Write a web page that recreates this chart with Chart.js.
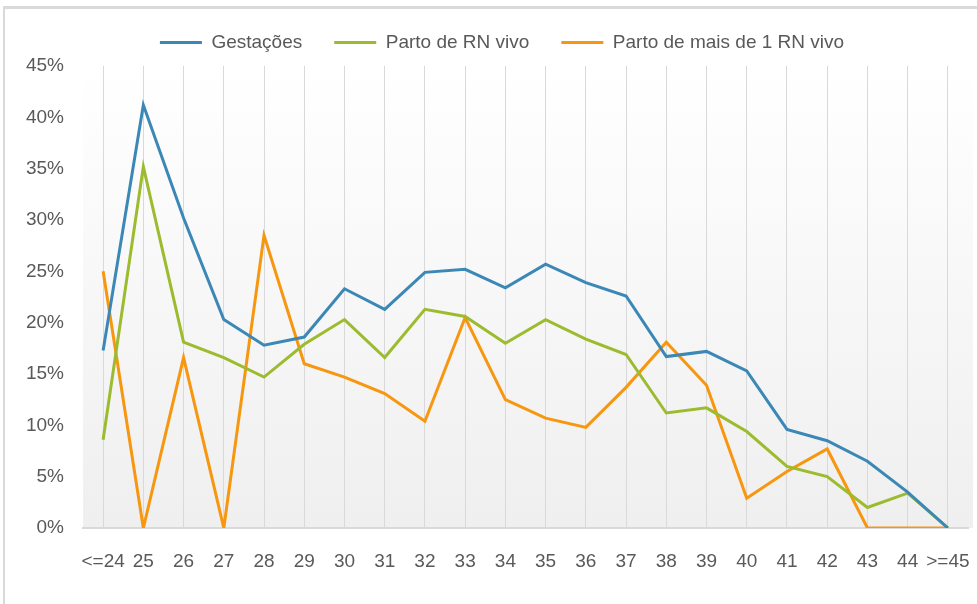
<!DOCTYPE html>
<html>
<head>
<meta charset="utf-8">
<script src="https://cdn.jsdelivr.net/npm/chart.js"></script>
<style>
  html, body { margin: 0; padding: 0; background: #fff; }
  #wrap { position: relative; width: 977px; height: 604px; overflow: hidden; }
  #frame { position: absolute; left: 3px; top: 6px; width: 990px; height: 620px;
           border-top: 3px solid #d9d9d9; border-left: 2px solid #d9d9d9; pointer-events: none; }
  canvas { position: absolute; left: 0; top: 0; }
</style>
</head>
<body>
<div id="wrap">
  <canvas id="chart" width="977" height="604"></canvas>
  <div id="frame"></div>
</div>
<script>
// categorias (idade)
const idades = ['<=24','25','26','27','28','29','30','31','32','33','34','35','36','37','38','39','40','41','42','43','44','>=45'];

// séries (%)
const gestacoes   = [17.3, 41.2, 30.2, 20.3, 17.8, 18.6, 23.3, 21.3, 24.9, 25.2, 23.4, 25.7, 23.9, 22.6, 16.7, 17.2, 15.3, 9.6, 8.5, 6.5, 3.5, 0];
const partoVivo   = [8.6, 35.2, 18.1, 16.6, 14.7, 17.9, 20.3, 16.6, 21.3, 20.6, 18.0, 20.3, 18.4, 16.9, 11.2, 11.7, 9.4, 6.0, 5.0, 2.0, 3.4, 0];
const partoMais1  = [25.0, 0, 16.6, 0, 28.5, 16.0, 14.7, 13.1, 10.4, 20.5, 12.5, 10.7, 9.8, 13.7, 18.1, 13.9, 2.9, 5.5, 7.7, 0, 0, 0];

const FONT = "'Liberation Sans', Arial, sans-serif";
const TXT = '#595959';
const FS = 19;

const bgPlugin = {
  id: 'plotBg',
  beforeDraw(chart) {
    const {ctx, chartArea: a} = chart;
    const g = ctx.createLinearGradient(0, a.top, 0, a.bottom);
    g.addColorStop(0, '#ffffff');
    g.addColorStop(1, '#efefef');
    ctx.save();
    ctx.fillStyle = g;
    ctx.fillRect(a.left, a.top, a.right - a.left + 5, a.bottom - a.top);
    ctx.restore();
  }
};

// legenda um pouco mais alta e deslocada para a direita
const legendFit = {
  id: 'legendFit',
  beforeInit(chart) {
    const fit = chart.legend.fit;
    chart.legend.fit = function() {
      fit.bind(chart.legend)();
      this.height = 65;
    };
  },
  afterLayout(chart) {
    chart.legend.left += 18;
    chart.legend.right += 18;
  }
};

function ds(label, data, color) {
  return { label, data, borderColor: color, backgroundColor: color,
           borderWidth: 3, pointRadius: 0, tension: 0, fill: false };
}

new Chart(document.getElementById('chart'), {
  type: 'line',
  data: {
    labels: idades,
    datasets: [
      ds('Gestações', gestacoes, '#3b88b7'),
      ds('Parto de RN vivo', partoVivo, '#9cbb2e'),
      ds('Parto de mais de 1 RN vivo', partoMais1, '#f7960f')
    ]
  },
  options: {
    responsive: false,
    animation: false,
    layout: { padding: { top: 1, right: 9, bottom: 0, left: 0 } },
    plugins: {
      tooltip: { enabled: false },
      legend: {
        position: 'top',
        labels: {
          color: TXT,
          font: { family: FONT, size: FS },
          boxWidth: 42,
          boxHeight: 3,
          padding: 32,
          generateLabels(chart) {
            return chart.data.datasets.map((d, i) => ({
              text: d.label, fillStyle: d.borderColor, strokeStyle: d.borderColor,
              lineWidth: 0, hidden: false, datasetIndex: i, fontColor: TXT
            }));
          }
        }
      }
    },
    scales: {
      x: {
        offset: true,
        grid: { display: true, offset: false, color: '#d9d9d9', lineWidth: 1, drawTicks: false },
        border: { display: true, color: '#d9d9d9', width: 2 },
        ticks: { color: TXT, font: { family: FONT, size: FS }, padding: 22, maxRotation: 0, autoSkip: false },
        afterFit(scale) { scale.height = 76; scale.paddingRight = 0; scale.paddingLeft = 0; }
      },
      y: {
        min: 0, max: 45,
        grid: { display: false, drawTicks: false },
        border: { display: false },
        ticks: { stepSize: 5, color: TXT, font: { family: FONT, size: FS }, padding: 19,
                 callback: v => v + '%' },
        afterFit(scale) { scale.width = 83; }
      }
    }
  },
  plugins: [bgPlugin, legendFit]
});
</script>
</body>
</html>
